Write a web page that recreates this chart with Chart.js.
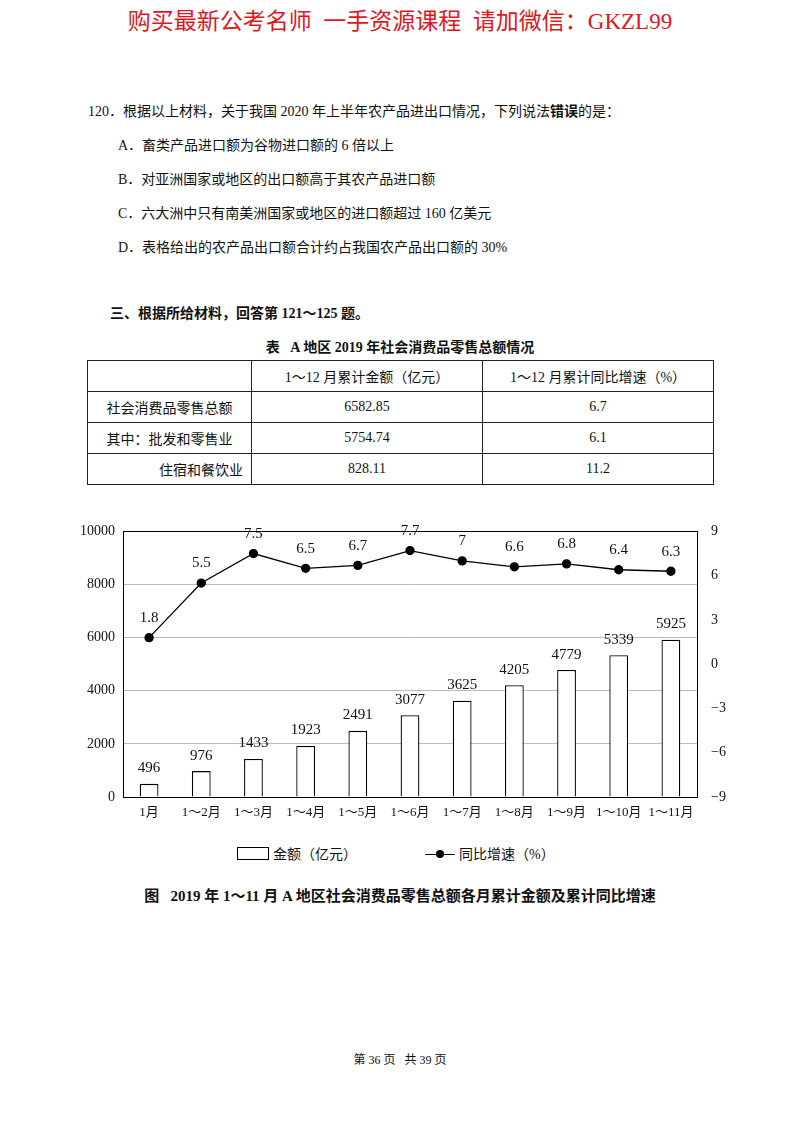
<!DOCTYPE html>
<html><head><meta charset="utf-8">
<script src="https://cdn.jsdelivr.net/npm/chart.js@4"></script>
<style>
body{margin:0;width:800px;height:1124px;background:#fff;position:relative;font-family:"Liberation Serif","Noto Sans CJK SC",serif;color:#111;}
.t{position:absolute;white-space:nowrap;font-size:14px;}
table{position:absolute;left:87px;top:360px;border-collapse:collapse;font-size:14px;}
td{border:1px solid #222;height:30px;text-align:center;padding:0;}
#wrap{position:absolute;left:70px;top:515px;width:667px;height:312px;}
.leg{position:absolute;top:843px;font-size:14px;}
</style></head><body>
<div class="t" style="left:0;width:800px;text-align:center;top:2px;font-size:23px;color:#e0161c;">购买最新公考名师&nbsp;&nbsp;一手资源课程&nbsp;&nbsp;请加微信：GKZL99</div>
<div class="t" style="left:88px;top:100px;">120．根据以上材料，关于我国 2020 年上半年农产品进出口情况，下列说法<b>错误</b>的是：</div>
<div class="t" style="left:118px;top:134px;">A．畜类产品进口额为谷物进口额的 6 倍以上</div>
<div class="t" style="left:118px;top:168px;">B．对亚洲国家或地区的出口额高于其农产品进口额</div>
<div class="t" style="left:118px;top:202px;">C．六大洲中只有南美洲国家或地区的进口额超过 160 亿美元</div>
<div class="t" style="left:118px;top:236px;">D．表格给出的农产品出口额合计约占我国农产品出口额的 30%</div>
<div class="t" style="left:110px;top:302px;font-weight:bold;">三、根据所给材料，回答第 121～125 题。</div>
<div class="t" style="left:0;width:800px;text-align:center;top:336px;font-weight:bold;">表&nbsp;&nbsp;&nbsp;A 地区 2019 年社会消费品零售总额情况</div>
<table>
<tr><td style="width:163px"></td><td style="width:230px">1～12 月累计金额（亿元）</td><td style="width:230px">1～12 月累计同比增速（%）</td></tr>
<tr><td>社会消费品零售总额</td><td>6582.85</td><td>6.7</td></tr>
<tr><td>其中：批发和零售业</td><td>5754.74</td><td>6.1</td></tr>
<tr><td style="text-align:right;padding-right:8px">住宿和餐饮业</td><td>828.11</td><td>11.2</td></tr>
</table>
<div id="wrap"><canvas id="c"></canvas></div>
<div class="leg" style="left:237px;"><span style="display:inline-block;width:30px;height:11px;border:1.5px solid #000;vertical-align:-1px;margin-right:4px"></span>金额（亿元）</div>
<div class="leg" style="left:425px;"><span style="display:inline-block;position:relative;width:30px;height:12px;vertical-align:-1px;margin-right:4px"><span style="position:absolute;left:0;top:6px;width:30px;border-top:1.5px solid #000"></span><span style="position:absolute;left:11px;top:2px;width:8px;height:8px;border-radius:50%;background:#000"></span></span>同比增速（%）</div>
<div class="t" style="left:0;width:800px;text-align:center;top:884px;font-size:15px;font-weight:bold;">图&nbsp;&nbsp;&nbsp;2019 年 1～11 月 A 地区社会消费品零售总额各月累计金额及累计同比增速</div>
<div class="t" style="left:0;width:800px;text-align:center;top:1050px;font-size:12px;">第 36 页&nbsp;&nbsp;&nbsp;共 39 页</div>
<script>
const categories=["1月","1～2月","1～3月","1～4月","1～5月","1～6月","1～7月","1～8月","1～9月","1～10月","1～11月"];
const amounts=[496,976,1433,1923,2491,3077,3625,4205,4779,5339,5925];
const growth=[1.8,5.5,7.5,6.5,6.7,7.7,7,6.6,6.8,6.4,6.3];
const leftTicks=[0,2000,4000,6000,8000,10000];
const rightTicks=[-9,-6,-3,0,3,6,9];
const F='"Liberation Serif","Noto Sans CJK SC",serif';
const labels={id:'lbl',afterDatasetsDraw(ch){const x=ch.ctx;x.save();x.fillStyle='#111';x.textAlign='center';x.textBaseline='bottom';
 x.font='15px '+F;
 ch.getDatasetMeta(0).data.forEach((e,i)=>x.fillText(String(amounts[i]),e.x,e.y-8));
 ch.getDatasetMeta(1).data.forEach((e,i)=>x.fillText(String(growth[i]),e.x,e.y-12));
 x.restore();}};
new Chart(document.getElementById('c'),{
 data:{labels:categories,datasets:[
  {type:'bar',data:amounts,backgroundColor:'#fff',borderColor:'#000',borderWidth:1.3,barPercentage:0.36,categoryPercentage:1,yAxisID:'y',order:2},
  {type:'line',data:growth,borderColor:'#000',borderWidth:1.3,pointRadius:4,pointBackgroundColor:'#000',pointBorderColor:'#000',yAxisID:'y2',order:1}]},
 options:{responsive:true,maintainAspectRatio:false,animation:false,
  layout:{padding:{top:15}},
  plugins:{legend:{display:false},tooltip:{enabled:false}},
  scales:{
   x:{grid:{display:false,drawTicks:false},border:{color:'#000'},ticks:{color:'#111',font:{size:13,family:F},padding:8,maxRotation:0,autoSkip:false},afterFit(a){a.height=30;}},
   y:{position:'left',min:0,max:10000,afterBuildTicks(a){a.ticks=leftTicks.map(v=>({value:v}));},grid:{color:ctx=>ctx.tick.value===10000?'#000':'#bbb',drawTicks:false},border:{color:'#000'},ticks:{color:'#111',font:{size:14,family:F},padding:8,callback:v=>String(v)},afterFit(a){a.width=53;}},
   y2:{position:'right',min:-9,max:9,afterBuildTicks(a){a.ticks=rightTicks.map(v=>({value:v}));},grid:{display:false},border:{color:'#000'},ticks:{color:'#111',font:{size:14,family:F},padding:6,callback:v=>v<0?'−'+(-v):String(v)},afterFit(a){a.width=40;}}
  }},
 plugins:[labels]});
</script>
</body></html>
